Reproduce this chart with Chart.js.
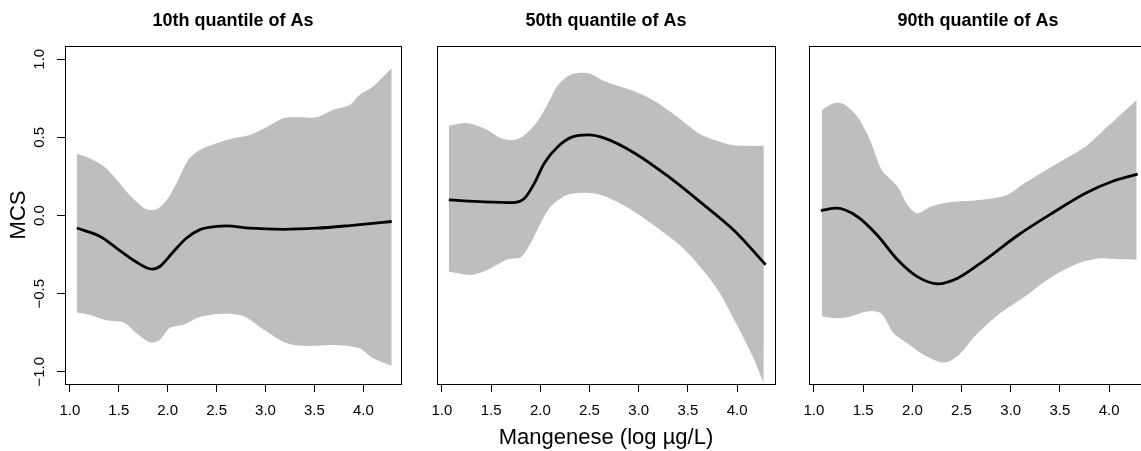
<!DOCTYPE html>
<html>
<head>
<meta charset="utf-8">
<script src="https://cdn.jsdelivr.net/npm/chart.js@4.4.0/dist/chart.umd.min.js"></script>
<style>
html, body { margin: 0; padding: 0; background: #fff; overflow: hidden; width: 1141px; height: 451px; }
.panel { position: absolute; top: 0; height: 451px; }
</style>
</head>
<body>
<div class="panel" style="left:0;width:410px"><canvas id="q10"></canvas></div>
<div class="panel" style="left:420px;width:370px"><canvas id="q50"></canvas></div>
<div class="panel" style="left:790px;width:370px"><canvas id="q90"></canvas></div>
<script>
// axis ticks
const xTicks = [1.0, 1.5, 2.0, 2.5, 3.0, 3.5, 4.0];
const yTicks = [-1.0, -0.5, 0.0, 0.5, 1.0];
const yTickLabels = ['\u22121.0', '\u22120.5', '0.0', '0.5', '1.0'];

// 10th quantile
const q10LineX  = [1.07, 1.31, 1.48, 1.65, 1.84, 1.92, 2.06, 2.19, 2.33, 2.5, 2.6, 2.84, 3.18, 3.52, 3.86, 4.29];
const q10LineY  = [-0.08, -0.134, -0.21, -0.286, -0.343, -0.326, -0.23, -0.145, -0.09, -0.07, -0.066, -0.081, -0.088, -0.081, -0.064, -0.038];
const q10UpperX = [1.07, 1.2, 1.34, 1.48, 1.61, 1.72, 1.78, 1.89, 1.99, 2.09, 2.21, 2.33, 2.5, 2.67, 2.84, 3.01, 3.18, 3.35, 3.52, 3.69, 3.86, 3.96, 4.1, 4.29];
const q10UpperY = [0.395, 0.367, 0.318, 0.228, 0.132, 0.068, 0.041, 0.041, 0.1, 0.207, 0.356, 0.42, 0.462, 0.494, 0.516, 0.565, 0.623, 0.629, 0.629, 0.676, 0.708, 0.772, 0.826, 0.944];
const q10LowerX = [1.07, 1.2, 1.38, 1.55, 1.68, 1.82, 1.92, 2.02, 2.16, 2.33, 2.57, 2.78, 3.01, 3.22, 3.43, 3.69, 3.96, 4.1, 4.29];
const q10LowerY = [-0.62, -0.635, -0.671, -0.684, -0.752, -0.812, -0.795, -0.72, -0.699, -0.65, -0.629, -0.646, -0.742, -0.817, -0.834, -0.828, -0.849, -0.913, -0.962];

// 50th quantile
const q50LineX  = [1.07, 1.43, 1.73, 1.84, 1.94, 2.04, 2.18, 2.32, 2.49, 2.66, 2.96, 3.3, 3.64, 3.98, 4.29];
const q50LineY  = [0.1, 0.088, 0.083, 0.11, 0.207, 0.335, 0.442, 0.502, 0.516, 0.494, 0.399, 0.25, 0.079, -0.102, -0.315];
const q50UpperX = [1.07, 1.26, 1.46, 1.6, 1.73, 1.84, 1.97, 2.08, 2.18, 2.32, 2.49, 2.66, 2.96, 3.17, 3.41, 3.64, 3.95, 4.12, 4.29];
const q50UpperY = [0.574, 0.591, 0.549, 0.494, 0.483, 0.516, 0.602, 0.72, 0.836, 0.904, 0.911, 0.858, 0.794, 0.73, 0.623, 0.516, 0.452, 0.446, 0.446];
const q50LowerX = [1.07, 1.29, 1.46, 1.67, 1.8, 1.9, 2.08, 2.25, 2.42, 2.62, 2.9, 3.17, 3.47, 3.78, 3.98, 4.15, 4.27];
const q50LowerY = [-0.358, -0.38, -0.348, -0.28, -0.267, -0.177, 0.036, 0.126, 0.146, 0.132, 0.047, -0.07, -0.22, -0.454, -0.678, -0.891, -1.072];

// 90th quantile
const q90LineX  = [1.07, 1.23, 1.44, 1.64, 1.85, 2.05, 2.26, 2.46, 2.74, 3.08, 3.42, 3.76, 4.03, 4.29];
const q90LineY  = [0.032, 0.047, -0.006, -0.123, -0.283, -0.391, -0.437, -0.401, -0.283, -0.123, 0.015, 0.143, 0.218, 0.265];
const q90UpperX = [1.08, 1.2, 1.3, 1.44, 1.57, 1.69, 1.85, 1.95, 2.05, 2.19, 2.36, 2.63, 2.94, 3.14, 3.42, 3.76, 4.0, 4.17, 4.28];
const q90UpperY = [0.676, 0.719, 0.714, 0.634, 0.484, 0.292, 0.186, 0.069, 0.015, 0.058, 0.084, 0.096, 0.126, 0.207, 0.314, 0.442, 0.58, 0.676, 0.74];
const q90LowerX = [1.08, 1.23, 1.37, 1.54, 1.68, 1.81, 1.95, 2.12, 2.33, 2.49, 2.63, 2.87, 3.14, 3.42, 3.69, 3.9, 4.1, 4.28];
const q90LowerY = [-0.646, -0.657, -0.646, -0.614, -0.625, -0.753, -0.817, -0.892, -0.941, -0.881, -0.775, -0.636, -0.519, -0.391, -0.306, -0.274, -0.28, -0.283];

Chart.defaults.font.family = "'Liberation Sans', Arial, Helvetica, sans-serif";
Chart.defaults.color = '#000';

const pts = (xs, ys) => xs.map((x, i) => ({x: x, y: ys[i]}));

// frame round the plot region, like R's box()
const boxPlugin = {
  id: 'box',
  afterDraw(chart) {
    const a = chart.chartArea, ctx = chart.ctx;
    ctx.save();
    ctx.strokeStyle = '#000';
    ctx.lineWidth = 1;
    ctx.strokeRect(Math.round(a.left) + 0.5, Math.round(a.top) + 0.5,
                   Math.round(a.right - a.left), Math.round(a.bottom - a.top));
    ctx.restore();
  }
};

// rotated y tick labels (las=0 style)
const yLabelPlugin = {
  id: 'yLabels',
  afterDraw(chart) {
    const s = chart.scales.y;
    if (!s.options.display) return;
    const ctx = chart.ctx;
    ctx.save();
    ctx.font = "15px 'Liberation Sans', Arial, sans-serif";
    ctx.fillStyle = '#000';
    ctx.textAlign = 'center';
    ctx.textBaseline = 'middle';
    yTicks.forEach((v, i) => {
      ctx.save();
      ctx.translate(40, s.getPixelForValue(v));
      ctx.rotate(-Math.PI / 2);
      ctx.fillText(yTickLabels[i], 0, 0);
      ctx.restore();
    });
    ctx.restore();
  }
};

function makePanel(id, title, lx, ly, ux, uy, bx, by, cfg) {
  return new Chart(document.getElementById(id), {
    type: 'line',
    data: {
      datasets: [{
        data: pts(lx, ly),
        borderColor: '#000',
        borderWidth: 2.8,
        pointRadius: 0,
        cubicInterpolationMode: 'monotone',
        fill: false,
        order: 0
      }, {
        data: pts(ux, uy),
        borderWidth: 0,
        borderColor: 'rgba(0,0,0,0)',
        backgroundColor: '#bebebe',
        pointRadius: 0,
        tension: 0.3,
        fill: '+1',
        order: 1
      }, {
        data: pts(bx, by),
        borderWidth: 0,
        borderColor: 'rgba(0,0,0,0)',
        pointRadius: 0,
        tension: 0.3,
        fill: false,
        order: 2
      }]
    },
    options: {
      responsive: true,
      maintainAspectRatio: false,
      animation: false,
      layout: { padding: { left: cfg.padLeft, right: cfg.padRight, top: 0, bottom: 0 } },
      plugins: {
        legend: { display: false },
        tooltip: { enabled: false },
        title: {
          display: true,
          text: title,
          fullSize: false,
          color: '#000',
          font: { size: 18, weight: 'bold' },
          padding: { top: 10.5, bottom: 13.9 }
        }
      },
      scales: {
        x: {
          type: 'linear',
          min: 0.95,
          max: 4.385,
          afterBuildTicks: s => { s.ticks = xTicks.map(v => ({value: v})); },
          afterFit: s => { s.height = 67; },
          grid: { drawOnChartArea: false, drawTicks: true, tickLength: 8, color: '#000' },
          border: { display: true, color: '#000', width: 1 },
          ticks: { font: { size: 15 }, padding: 10, maxRotation: 0, callback: v => v.toFixed(1) },
          title: {
            display: cfg.xTitle,
            text: 'Mangenese (log \u00b5g/L)',
            font: { size: 22 },
            padding: { top: 0, bottom: 0 }
          }
        },
        y: {
          type: 'linear',
          display: cfg.yAxis,
          min: -1.078,
          max: 1.085,
          afterBuildTicks: s => { s.ticks = yTicks.map(v => ({value: v})); },
          afterFit: s => { s.width = cfg.yAxis ? 65 : 0; },
          grid: { drawOnChartArea: false, drawTicks: true, tickLength: 8, color: '#000' },
          border: { display: true, color: '#000', width: 1 },
          ticks: { display: false },
          title: {
            display: true,
            text: 'MCS',
            font: { size: 22 },
            padding: { top: 6, bottom: 0 }
          }
        }
      }
    },
    plugins: [boxPlugin, yLabelPlugin]
  });
}

makePanel('q10', '10th quantile of As', q10LineX, q10LineY, q10UpperX, q10UpperY, q10LowerX, q10LowerY,
  { padLeft: 0, padRight: 9, yAxis: true, xTitle: false });
makePanel('q50', '50th quantile of As', q50LineX, q50LineY, q50UpperX, q50UpperY, q50LowerX, q50LowerY,
  { padLeft: 17, padRight: 15, yAxis: false, xTitle: true });
makePanel('q90', '90th quantile of As', q90LineX, q90LineY, q90UpperX, q90UpperY, q90LowerX, q90LowerY,
  { padLeft: 19, padRight: 13, yAxis: false, xTitle: false });
</script>
</body>
</html>
